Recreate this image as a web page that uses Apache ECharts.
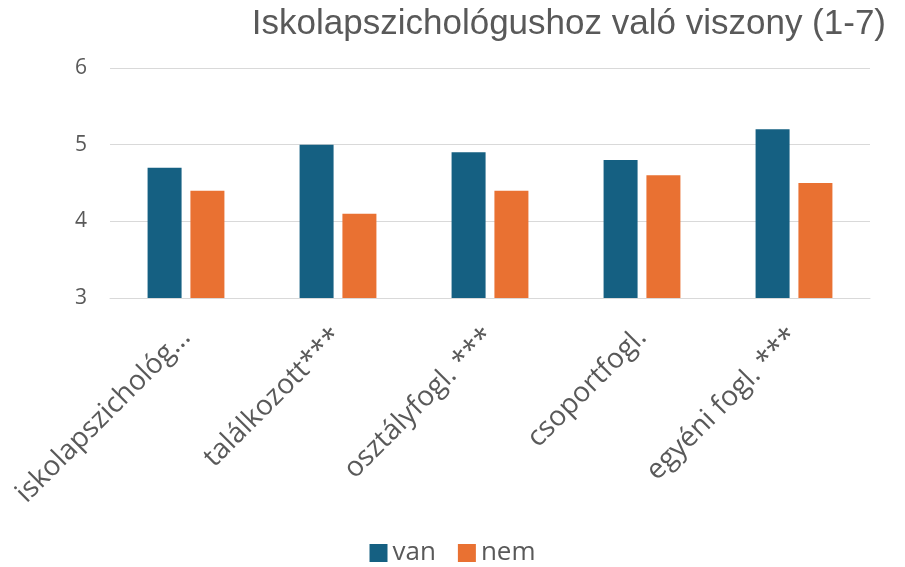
<!DOCTYPE html>
<html>
<head>
<meta charset="utf-8">
<script src="https://cdn.jsdelivr.net/npm/echarts@6/dist/echarts.min.js"></script>
<style>
  html, body { margin: 0; padding: 0; background: #fff; }
  #chart { width: 905px; height: 567px; }
</style>
</head>
<body>
<div id="chart"></div>
<script>
const categories = ['iskolapszichológ…', 'találkozott***', 'osztályfogl. ***', 'csoportfogl.', 'egyéni fogl. ***'];
const vanValues = [4.7, 5.0, 4.9, 4.8, 5.2];
const nemValues = [4.4, 4.1, 4.4, 4.6, 4.5];

const textColor = '#595959';
const font = '"Open Sans", Arial, sans-serif';

const chart = echarts.init(document.getElementById('chart'));

const option = {
    animation: false,
    title: {
        text: 'Iskolapszichológushoz való viszony (1-7)',
        right: 14,
        top: 2,
        textStyle: {
            color: textColor,
            fontFamily: '"Liberation Sans", Arial, sans-serif',
            fontSize: 35,
            fontWeight: 'normal'
        }
    },
    legend: {
        data: ['van', 'nem'],
        bottom: -4,
        left: 'center',
        icon: 'rect',
        itemWidth: 18,
        itemHeight: 18,
        itemGap: 22,
        textStyle: { color: textColor, fontSize: 26, fontFamily: font }
    },
    grid: {
        left: 110,
        right: 35,
        top: 68,
        bottom: 269
    },
    xAxis: {
        type: 'category',
        data: categories,
        axisLine: { show: true, lineStyle: { color: '#d9d9d9' } },
        axisTick: { show: false },
        axisLabel: {
            rotate: 45,
            interval: 0,
            margin: 35,
            color: textColor,
            fontSize: 28,
            fontFamily: font
        }
    },
    yAxis: {
        type: 'value',
        min: 3,
        max: 6,
        interval: 1,
        axisLine: { show: false },
        axisTick: { show: false },
        splitLine: { lineStyle: { color: '#d9d9d9' } },
        axisLabel: {
            margin: 23,
            color: textColor,
            fontSize: 21,
            fontFamily: font
        }
    },
    series: [
        {
            name: 'van',
            type: 'bar',
            data: vanValues,
            barWidth: 34,
            barGap: '26%',
            itemStyle: { color: '#156082' }
        },
        {
            name: 'nem',
            type: 'bar',
            data: nemValues,
            barWidth: 34,
            itemStyle: { color: '#E97132' }
        }
    ]
};

chart.setOption(option);
</script>
</body>
</html>
